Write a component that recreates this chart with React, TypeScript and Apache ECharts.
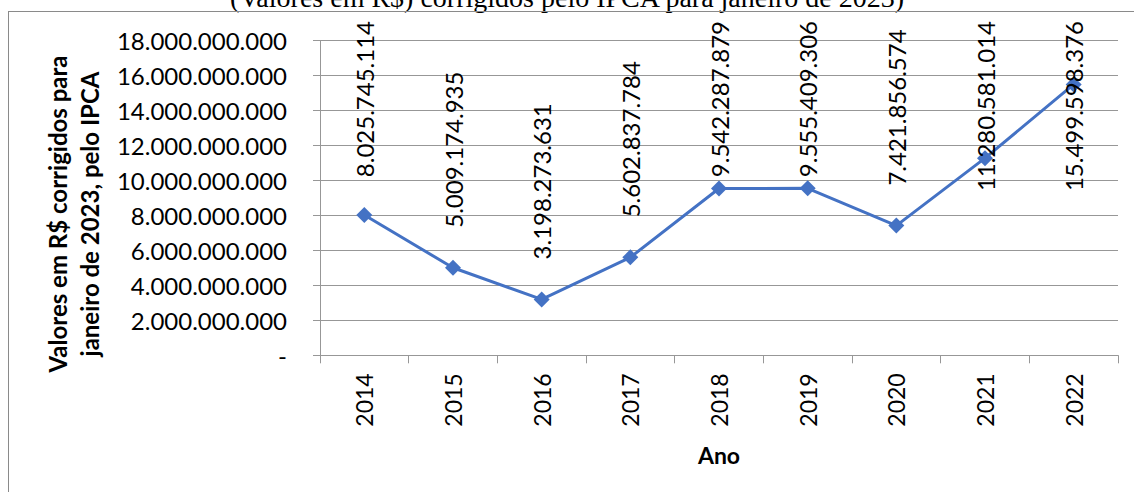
import React, { useEffect, useRef } from "react";
import * as echarts from "echarts";

const categories = ["2014", "2015", "2016", "2017", "2018", "2019", "2020", "2021", "2022"];
const values = [
  8025745114, 5009174935, 3198273631, 5602837784, 9542287879, 9555409306, 7421856574,
  11280581014, 15499598376,
];
const titleText = "(Valores em R$) corrigidos pelo IPCA para janeiro de 2023)";
const yAxisTitle = "Valores em R$ corrigidos para\njaneiro de 2023, pelo IPCA";
const xAxisTitle = "Ano";
const yMin = 0;
const yMax = 18000000000;
const yInterval = 2000000000;

const fmt = (v: number) =>
  v === 0 ? "-" : String(Math.round(v)).replace(/\B(?=(\d{3})+(?!\d))/g, ".");

export default function App() {
  const ref = useRef<HTMLDivElement>(null);
  useEffect(() => {
    if (!ref.current) return;
    const chart = echarts.init(ref.current, undefined, { renderer: "svg" });
    const gray = "#979797";
    const labelMinTop = 21;
    chart.setOption({
      animation: false,
      backgroundColor: "#ffffff",
      grid: { left: 320, right: 16, top: 40.7, bottom: 136.7, containLabel: false },
      graphic: [
        {
          type: "text",
          x: 567,
          y: -3,
          style: {
            text: titleText,
            font: '28px "Liberation Serif", serif',
            fill: "#000",
            align: "center",
            verticalAlign: "middle",
          },
        },
        {
          type: "line",
          shape: { x1: 8, y1: 11.5, x2: 1134, y2: 11.5 },
          style: { stroke: "#8a8a8a", lineWidth: 1 },
        },
        {
          type: "line",
          shape: { x1: 8.5, y1: 11, x2: 8.5, y2: 492 },
          style: { stroke: "#8a8a8a", lineWidth: 1 },
        },
        {
          type: "text",
          x: 73,
          y: 214,
          rotation: Math.PI / 2,
          style: {
            text: yAxisTitle,
            font: 'bold 24px Lato, sans-serif',
            lineHeight: 32,
            fill: "#000",
            align: "center",
            verticalAlign: "middle",
          },
        },
      ],
      xAxis: {
        type: "category",
        data: categories,
        boundaryGap: true,
        name: xAxisTitle,
        nameLocation: "middle",
        nameGap: 88,
        nameTextStyle: { fontFamily: "Lato", fontWeight: "bold", fontSize: 23, color: "#000" },
        axisLine: { show: true, lineStyle: { color: gray, width: 1 } },
        axisTick: { show: true, alignWithLabel: false, length: 8, lineStyle: { color: gray } },
        axisLabel: {
          rotate: 90,
          margin: 18,
          fontFamily: "Lato",
          fontSize: 23,
          color: "#000",
        },
        splitLine: { show: false },
      },
      yAxis: {
        type: "value",
        min: yMin,
        max: yMax,
        interval: yInterval,
        axisLine: { show: true, lineStyle: { color: gray, width: 1 } },
        axisTick: { show: true, length: 7, lineStyle: { color: gray } },
        axisLabel: {
          margin: 33,
          fontFamily: "Lato",
          fontSize: 24,
          color: "#000",
          formatter: (v: number) => fmt(v),
        },
        splitLine: { show: true, lineStyle: { color: gray, width: 1 } },
      },
      series: [
        {
          type: "line",
          data: values,
          symbol: "diamond",
          symbolSize: 16,
          lineStyle: { color: "#4472C4", width: 3 },
          itemStyle: { color: "#4472C4" },
          label: {
            show: true,
            position: "top",
            rotate: 90,
            align: "left",
            verticalAlign: "middle",
            distance: 32,
            fontFamily: "Lato",
            fontSize: 24,
            color: "#000",
            formatter: (p: any) => fmt(p.value),
          },
          labelLayout: (params: any) => {
            const r = params.labelRect;
            if (r.y < labelMinTop) {
              return { y: labelMinTop + r.height };
            }
            return {};
          },
        },
      ],
    });
    return () => chart.dispose();
  }, []);
  return (
    <div
      ref={ref}
      style={{ position: "fixed", left: 0, top: 0, width: 1134, height: 492, background: "#fff" }}
    />
  );
}
